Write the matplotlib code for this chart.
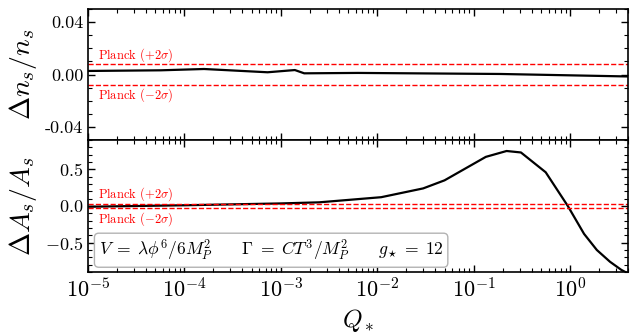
import numpy as np
import matplotlib
matplotlib.use("Agg")
import matplotlib.pyplot as plt
from matplotlib.ticker import MultipleLocator, LogLocator, NullFormatter

plt.rcParams['font.family'] = 'serif'
plt.rcParams['font.serif'] = ['cmr10']
plt.rcParams['mathtext.fontset'] = 'cm'
plt.rcParams['axes.formatter.use_mathtext'] = True

# Top panel: Delta n_s / n_s
q_top = [1e-5, 5.7e-5, 1.6e-4, 7.3e-4, 1.4e-3, 1.75e-3, 6.3e-3, 0.19, 4.0]
dns = [0.0027, 0.0032, 0.0042, 0.0017, 0.0034, 0.0009, 0.0012, 0.0004, -0.0015]

# Bottom panel: Delta A_s / A_s
q_bot = [1e-5, 1e-4, 1e-3, 2.5e-3, 1.1e-2, 0.03, 0.05, 0.134, 0.22, 0.31, 0.56,
         0.95, 1.4, 1.9, 2.6, 3.4, 4.0]
das = [-0.01, 0.01, 0.035, 0.05, 0.12, 0.24, 0.35, 0.67, 0.75, 0.73, 0.46,
       0.0, -0.38, -0.6, -0.76, -0.87, -0.92]

ns_2sigma = 0.0078
as_2sigma = 0.03

fig = plt.figure(figsize=(6.37, 3.36), dpi=100)
ax1 = fig.add_axes([88/637, 1-140/336, 540/637, 131/336])
ax2 = fig.add_axes([88/637, 1-272/336, 540/637, 132/336], sharex=ax1)

ax1.plot(q_top, dns, color='black', lw=1.6)
ax2.plot(q_bot, das, color='black', lw=1.6)

for ax, s in ((ax1, ns_2sigma), (ax2, as_2sigma)):
    ax.axhline(s, color='red', ls='--', lw=1.0)
    ax.axhline(-s, color='red', ls='--', lw=1.0)

pfs = 9
ax1.text(0.018, 0.0149, r'Planck $(+2\sigma)$', color='red', fontsize=pfs,
         va='center', transform=ax1.get_yaxis_transform())
ax1.text(0.018, -0.0157, r'Planck $(-2\sigma)$', color='red', fontsize=pfs,
         va='center', transform=ax1.get_yaxis_transform())
ax2.text(0.018, 0.16, r'Planck $(+2\sigma)$', color='red', fontsize=pfs,
         va='center', transform=ax2.get_yaxis_transform())
ax2.text(0.018, -0.18, r'Planck $(-2\sigma)$', color='red', fontsize=pfs,
         va='center', transform=ax2.get_yaxis_transform())

ax2.text(0.02, 0.165,
         r'$V\;=\;\lambda\phi^6/6M_P^2\qquad\Gamma\;=\;CT^3/M_P^2\qquad g_{\star}\;=\;12$',
         transform=ax2.transAxes, fontsize=12.6, va='center', ha='left',
         bbox=dict(boxstyle='round,pad=0.25', facecolor='white', edgecolor='0.7'))

ax1.set_xscale('log')
ax1.set_xlim(1e-5, 4.0)
ax1.set_ylim(-0.05, 0.05)
ax2.set_ylim(-0.9, 0.9)

ax1.yaxis.set_major_locator(MultipleLocator(0.04))
ax1.yaxis.set_minor_locator(MultipleLocator(0.01))
ax1.yaxis.set_major_formatter(matplotlib.ticker.FormatStrFormatter('%.2f'))
ax2.yaxis.set_major_locator(MultipleLocator(0.5))
ax2.yaxis.set_minor_locator(MultipleLocator(0.1))

for ax in (ax1, ax2):
    ax.xaxis.set_major_locator(LogLocator(base=10, numticks=20))
    ax.xaxis.set_minor_locator(LogLocator(base=10, subs=np.arange(2, 10), numticks=20))
    ax.tick_params(which='both', direction='in', top=True, right=True)
    ax.tick_params(which='major', length=5, width=1)
    ax.tick_params(which='minor', length=3, width=0.8)
    ax.tick_params(axis='y', labelsize=13)
    ax.tick_params(axis='x', labelsize=16)
    for sp in ax.spines.values():
        sp.set_linewidth(1.2)

ax1.tick_params(labelbottom=False)
ax1.xaxis.set_minor_formatter(NullFormatter())
ax2.xaxis.set_minor_formatter(NullFormatter())

ax1.set_ylabel(r'$\Delta n_s/n_s$', fontsize=20)
ax2.set_ylabel(r'$\Delta A_s/A_s$', fontsize=20)
ax2.set_xlabel(r'$Q_*$', fontsize=18)
fig.align_ylabels([ax1, ax2])

fig.savefig('out.png', dpi=100)
